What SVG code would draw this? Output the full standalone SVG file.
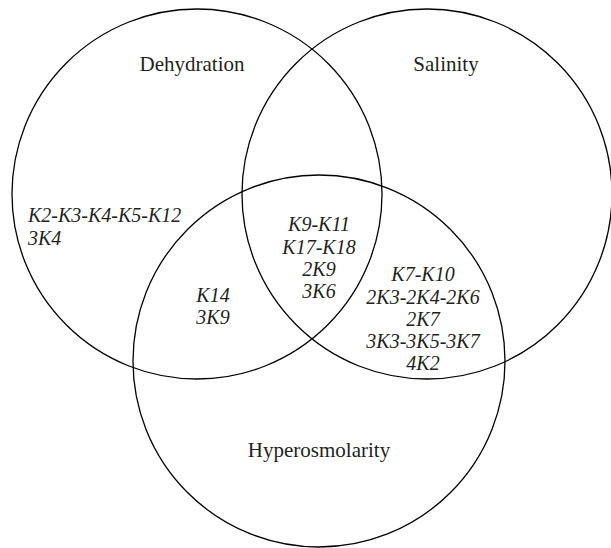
<svg xmlns="http://www.w3.org/2000/svg" width="611" height="548" viewBox="0 0 611 548">
<style>
.c{fill:none;stroke:#000;stroke-width:1.3}
.lbl{font-family:"Liberation Serif","Times New Roman",serif;font-size:21px;fill:#231f20;text-anchor:middle}
.it{font-family:"Liberation Serif","Times New Roman",serif;font-size:20px;font-style:italic;fill:#231f20}
.m{text-anchor:middle}
</style>
<rect width="611" height="548" fill="#fff"/>
<g id="dehydration">
<circle class="c" cx="197" cy="194" r="185"/>
<text class="lbl" x="192" y="71">Dehydration</text>
<text class="it" x="28" y="222">K2-K3-K4-K5-K12</text>
<text class="it" x="28" y="245">3K4</text>
</g>
<g id="salinity">
<circle class="c" cx="427" cy="194" r="185"/>
<text class="lbl" x="446" y="71">Salinity</text>
</g>
<g id="hyperosmolarity">
<circle class="c" cx="319" cy="361" r="186"/>
<text class="lbl" x="319" y="457">Hyperosmolarity</text>
</g>
<g id="dehydration-hyperosmolarity">
<text class="it m" x="213" y="302">K14</text>
<text class="it m" x="213" y="324">3K9</text>
</g>
<g id="all-three">
<text class="it m" x="319" y="231">K9-K11</text>
<text class="it m" x="319" y="254">K17-K18</text>
<text class="it m" x="319" y="276">2K9</text>
<text class="it m" x="319" y="298">3K6</text>
</g>
<g id="salinity-hyperosmolarity">
<text class="it m" x="423" y="281">K7-K10</text>
<text class="it m" x="423" y="304">2K3-2K4-2K6</text>
<text class="it m" x="423" y="326">2K7</text>
<text class="it m" x="423" y="348">3K3-3K5-3K7</text>
<text class="it m" x="423" y="370">4K2</text>
</g>
<g id="connectors"></g>
</svg>
